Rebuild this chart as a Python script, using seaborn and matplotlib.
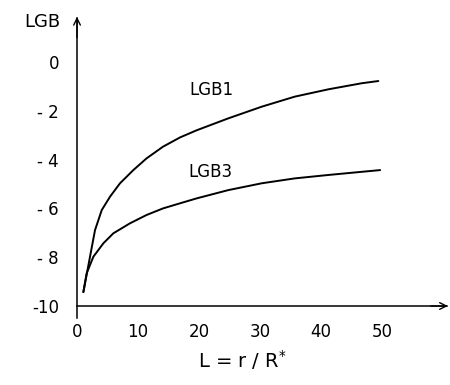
import matplotlib
matplotlib.use("Agg")
import matplotlib.pyplot as plt
import seaborn as sns
import pandas as pd

# Data
lgb1_x = [1.04, 2.13, 2.95, 4.05, 5.41, 7.05, 9.23, 11.4, 14.1, 16.9, 19.6,
          24.8, 30.3, 35.7, 41.2, 46.7, 49.4]
lgb1_y = [-9.43, -7.98, -6.89, -6.07, -5.52, -4.97, -4.43, -3.95, -3.47, -3.09, -2.80,
          -2.31, -1.83, -1.42, -1.12, -0.87, -0.78]
lgb3_x = [1.04, 1.58, 2.68, 4.32, 5.96, 8.69, 11.4, 14.1, 16.9, 19.6,
          24.8, 30.3, 35.7, 41.2, 46.7, 49.7]
lgb3_y = [-9.43, -8.66, -7.98, -7.43, -7.02, -6.61, -6.27, -6.00, -5.79, -5.59,
          -5.25, -4.97, -4.77, -4.63, -4.50, -4.43]
x_ticks = [0, 10, 20, 30, 40, 50]
y_ticks = [-10, -8, -6, -4, -2, 0]
y_tick_labels = ["-10", "- 8", "- 6", "- 4", "- 2", "0"]

sns.set_theme(style="white")
plt.rcParams['font.family'] = ['DejaVu Sans']
plt.rcParams['mathtext.fontset'] = 'dejavusans'

df = pd.concat([
    pd.DataFrame({"L": lgb1_x, "LGB": lgb1_y, "series": "LGB1"}),
    pd.DataFrame({"L": lgb3_x, "LGB": lgb3_y, "series": "LGB3"}),
])

fig = plt.figure(figsize=(4.5, 3.85), dpi=100)
ax = fig.add_axes([0.1576, 0.1608, 0.8431, 0.7986])
sns.lineplot(data=df, x="L", y="LGB", units="series", estimator=None,
             color="black", linewidth=1.4, ax=ax, legend=False, sort=False,
             solid_joinstyle="round", solid_capstyle="round")

ax.set_xlim(-1, 61.2)
ax.set_ylim(-10.7, 1.9)
ax.spines['top'].set_visible(False)
ax.spines['right'].set_visible(False)
ax.spines['left'].set_position(('data', 0))
ax.spines['bottom'].set_position(('data', -10))
ax.spines['left'].set_bounds(-10.5, 1.8)
ax.spines['bottom'].set_bounds(0, 60.6)
for s in ('left', 'bottom'):
    ax.spines[s].set_color('black')
    ax.spines[s].set_linewidth(1.1)

ax.set_xticks(x_ticks)
ax.set_xticklabels([str(v) for v in x_ticks])
ax.set_yticks(y_ticks)
ax.set_yticklabels(y_tick_labels)
ax.tick_params(axis='both', which='both', length=6, width=1.0, color='black',
               labelsize=12, labelcolor='black')
ax.tick_params(axis='x', direction='out', pad=6)
ax.tick_params(axis='y', direction='out', pad=7)
ax.set_xlabel("")
ax.set_ylabel("")

# axis arrowheads
ax.annotate("", xy=(60.8, -10), xytext=(58.0, -10),
            arrowprops=dict(arrowstyle="->", color="black", lw=1.0,
                            mutation_scale=12, shrinkA=0, shrinkB=0))
ax.annotate("", xy=(0, 1.85), xytext=(0, 1.0),
            arrowprops=dict(arrowstyle="->", color="black", lw=1.0,
                            mutation_scale=12, shrinkA=0, shrinkB=0))

ax.text(22.1, -1.15, "LGB1", ha="center", va="center", fontsize=12, color="black")
ax.text(21.9, -4.5, "LGB3", ha="center", va="center", fontsize=12, color="black")

fig.text(42 / 450, 1 - 22 / 385, "LGB", ha="center", va="center", fontsize=13, color="black")
fig.text(242 / 450, 1 - 360 / 385, "L = r / R$^{*}$", ha="center", va="center",
         fontsize=14, color="black")

fig.savefig("out.png", dpi=100)
